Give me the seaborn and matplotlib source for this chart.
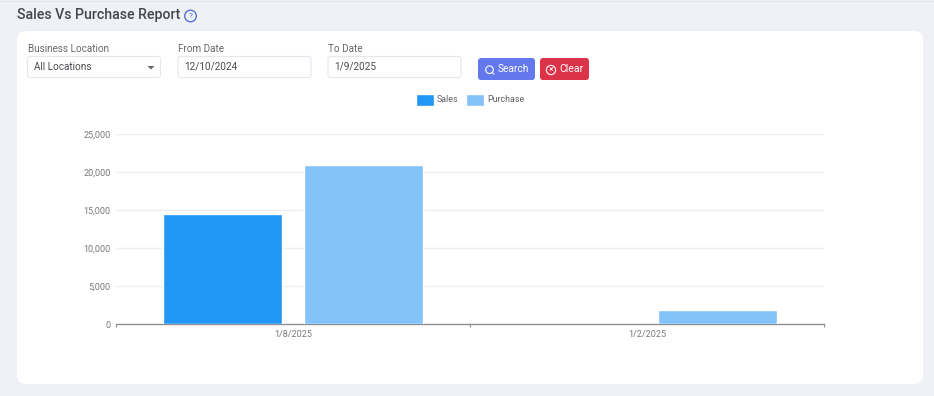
import matplotlib
matplotlib.use("Agg")
import matplotlib.pyplot as plt
import pandas as pd
import seaborn as sns
from matplotlib.patches import Circle, FancyBboxPatch, Polygon

# ------------------------------------------------------
# Data
# ------------------------------------------------------
dates = ["1/8/2025", "1/2/2025"]
sales = [14500, 0]
purchase = [20900, 1900]
y_ticks = [0, 5000, 10000, 15000, 20000, 25000]

df = pd.DataFrame({
    "date": dates * 2,
    "serie": ["Sales"] * len(dates) + ["Purchase"] * len(dates),
    "value": sales + purchase,
})

sns.set_theme(style="white")
plt.rcParams["font.family"] = ["Roboto", "DejaVu Sans"]

W, H = 934, 396
BG = "#eff1f7"
GREY = "#66666c"

fig = plt.figure(figsize=(W / 100, H / 100), dpi=100, facecolor=BG)

# ------------------------------------------------------
# Page around the chart (pixel coordinates)
# ------------------------------------------------------
ui = fig.add_axes([0, 0, 1, 1])
ui.set_xlim(0, W)
ui.set_ylim(H, 0)
ui.axis("off")


def box(x, y, w, h, face, edge="none", r=3.0, lw=0.8):
    ui.add_patch(FancyBboxPatch((x + r, y + r), w - 2 * r, h - 2 * r,
                                boxstyle=f"round,pad={r},rounding_size={r}",
                                facecolor=face, edgecolor=edge, linewidth=lw))


box(17, 31, 906, 353, "white", r=9)
ui.plot([0, W], [0.5, 0.5], color="#e3e5ee", lw=1)

ui.text(17, 15.5, "Sales Vs Purchase Report", fontsize=10.2, fontweight="medium",
        color="#45454d", va="center")
ui.add_patch(Circle((190.5, 16), 5.8, facecolor="none", edgecolor="#4a63d8", lw=0.9))
ui.text(190.5, 16.2, "?", fontsize=6, color="#4a63d8", ha="center", va="center")

for label, x, w, val in [("Business Location", 27.5, 133, "All Locations"),
                         ("From Date", 178, 133, "12/10/2024"),
                         ("To Date", 328, 133, "1/9/2025")]:
    ui.text(x, 48.5, label, fontsize=7.1, color=GREY, va="center")
    box(x, 56.5, w, 21, "white", edge="#e6e7ee", r=2.5)
    ui.text(x + 6.5, 67, val, fontsize=7.2, color="#4a4a50", va="center")
ui.add_patch(Polygon([(147.5, 66), (154.5, 66), (151, 69.5)],
                     facecolor="#66666c", edgecolor="none"))

box(478, 58, 57, 22, "#6478ee", r=3)
ui.add_patch(Circle((489.5, 69.7), 3.8, facecolor="none", edgecolor="white", lw=0.8))
ui.plot([492.2, 494], [72.4, 74.2], color="white", lw=0.8)
ui.text(498, 69, "Search", fontsize=7.3, color="white", va="center")
box(540, 58, 49, 22, "#dc3348", r=3)
ui.add_patch(Circle((551, 70), 4.6, facecolor="none", edgecolor="white", lw=0.8))
ui.text(551, 69.8, "×", fontsize=6.5, color="white", ha="center", va="center")
ui.text(559.5, 69, "Clear", fontsize=7.6, color="white", va="center")

# ------------------------------------------------------
# Bar chart
# ------------------------------------------------------
ax = fig.add_axes([116 / W, (H - 324) / H, 708 / W, 190 / H])
ax.patch.set_alpha(0)
sns.barplot(data=df, x="date", y="value", hue="serie", order=dates,
            hue_order=["Sales", "Purchase"],
            palette={"Sales": "#2196f3", "Purchase": "#84c2fa"},
            width=0.797, gap=0.155, saturation=1, errorbar=None, ax=ax, zorder=3)

ax.set_xlim(-0.5, 1.5)
ax.set_ylim(0, 25000)
ax.set_xlabel("")
ax.set_ylabel("")
ax.set_yticks(y_ticks)
ax.set_yticklabels([f"{v:,}" for v in y_ticks])
ax.yaxis.grid(True, color="#eeedf5", lw=1)
ax.xaxis.grid(False)
ax.set_axisbelow(True)
for side in ["top", "right", "left"]:
    ax.spines[side].set_visible(False)
ax.spines["bottom"].set_color("#8f8f96")
ax.spines["bottom"].set_linewidth(1)
ax.tick_params(axis="y", length=0, labelsize=6.5, labelcolor="#78787e", pad=4)
ax.tick_params(axis="x", length=0, labelsize=6.5, labelcolor="#78787e", pad=4)

# small ticks at the category boundaries
ax.set_xticks([-0.5, 0.5, 1.5], minor=True)
ax.tick_params(axis="x", which="minor", bottom=True, length=2.5, width=0.8, color="#8f8f96")

handles, labels = ax.get_legend_handles_labels()
ax.legend(handles, labels, loc="center", bbox_to_anchor=(470 / W, (H - 99.5) / H),
          bbox_transform=fig.transFigure, ncol=2, frameon=False, fontsize=6.4,
          labelcolor="#5f5f66", handlelength=2.03, handleheight=1.7, handletextpad=0.34,
          columnspacing=0.79, borderpad=0, borderaxespad=0)

fig.savefig("out.png", dpi=100, facecolor=BG)
